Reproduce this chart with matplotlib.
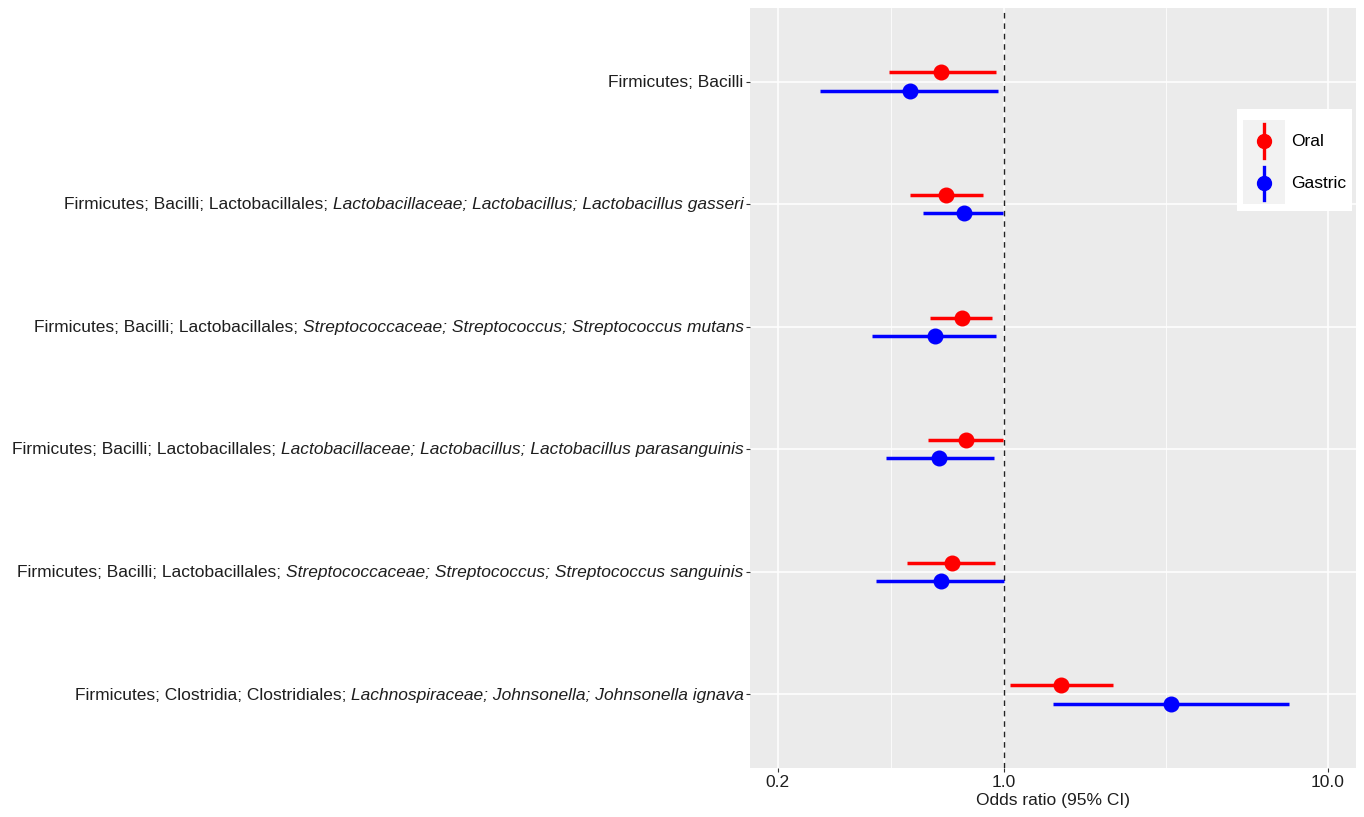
"""Forest plot of oral vs gastric microbiome odds ratios."""

import matplotlib

matplotlib.use("Agg")
import matplotlib.pyplot as plt
import numpy as np
from matplotlib.legend_handler import HandlerBase
from matplotlib.lines import Line2D
from matplotlib.offsetbox import AnnotationBbox, HPacker, TextArea
from matplotlib.patches import Rectangle
from matplotlib.ticker import FixedLocator, NullFormatter

plt.rcParams["font.family"] = ["Liberation Sans", "DejaVu Sans"]

# Taxa, top to bottom: (upright part, italic part)
TAXA_PLAIN = [
    "Firmicutes; Bacilli",
    "Firmicutes; Bacilli; Lactobacillales; ",
    "Firmicutes; Bacilli; Lactobacillales; ",
    "Firmicutes; Bacilli; Lactobacillales; ",
    "Firmicutes; Bacilli; Lactobacillales; ",
    "Firmicutes; Clostridia; Clostridiales; ",
]
TAXA_ITALIC = [
    "",
    "Lactobacillaceae; Lactobacillus; Lactobacillus gasseri",
    "Streptococcaceae; Streptococcus; Streptococcus mutans",
    "Lactobacillaceae; Lactobacillus; Lactobacillus parasanguinis",
    "Streptococcaceae; Streptococcus; Streptococcus sanguinis",
    "Lachnospiraceae; Johnsonella; Johnsonella ignava",
]

ORAL_OR = [0.640, 0.662, 0.742, 0.763, 0.691, 1.50]
ORAL_LO = [0.442, 0.513, 0.592, 0.583, 0.502, 1.044]
ORAL_HI = [0.943, 0.861, 0.920, 0.993, 0.940, 2.165]

GASTRIC_OR = [0.513, 0.752, 0.614, 0.631, 0.640, 3.28]
GASTRIC_LO = [0.271, 0.562, 0.392, 0.432, 0.402, 1.42]
GASTRIC_HI = [0.960, 0.993, 0.943, 0.931, 1.002, 7.60]

X_TICKS = [0.2, 1.0, 10.0]
X_TICK_LABELS = ["0.2", "1.0", "10.0"]
X_MINOR = [0.447, 3.162]

ORAL_COLOR = "#FF0000"
GASTRIC_COLOR = "#0000FF"
DODGE = 0.075
FONT_SIZE = 12.5
TEXT_COLOR = "#1E1E1E"


class PointRangeKey(HandlerBase):
    """ggplot-like pointrange legend key on a grey tile."""

    def create_artists(self, legend, orig_handle, xdescent, ydescent,
                       width, height, fontsize, trans):
        color = orig_handle.get_color()
        cx = width / 2 - xdescent
        cy = height / 2 - ydescent
        tile = Rectangle((-xdescent, -ydescent), width, height,
                         facecolor="#F2F2F2", edgecolor="none", transform=trans)
        stem = Line2D([cx, cx], [cy - height * 0.40, cy + height * 0.40],
                      color=color, lw=2.4, transform=trans)
        dot = Line2D([cx], [cy], marker="o", markersize=10, color=color,
                     linestyle="none", transform=trans)
        return [tile, stem, dot]


def draw_series(ax, y, est, lo, hi, color, label):
    ax.hlines(y, lo, hi, color=color, lw=2.5, zorder=3)
    ax.plot(est, y, "o", color=color, markersize=10.5, zorder=4,
            linestyle="none", label=label)


def add_taxon_label(ax, y, plain, italic):
    parts = [TextArea(plain, textprops=dict(fontsize=FONT_SIZE, color=TEXT_COLOR))]
    if italic:
        parts.append(TextArea(italic, textprops=dict(
            fontsize=FONT_SIZE, color=TEXT_COLOR, fontstyle="italic")))
    box = HPacker(children=parts, pad=0, sep=0, align="baseline")
    ab = AnnotationBbox(box, (0, y), xycoords=ax.get_yaxis_transform(),
                        xybox=(-4.5, -0.5), boxcoords="offset points",
                        box_alignment=(1, 0.5), frameon=False,
                        annotation_clip=False, pad=0)
    ax.add_artist(ab)


def main():
    fig = plt.figure(figsize=(13.64, 8.17), dpi=100)
    ax = fig.add_axes([750 / 1364, 49 / 817, 606 / 1364, 760 / 817])
    ax.set_facecolor("#EBEBEB")

    rows = np.arange(len(TAXA_PLAIN))
    ax.set_xscale("log")
    ax.set_xlim(0.1644, 12.2)
    ax.set_ylim(len(rows) - 0.4, -0.6)

    ax.xaxis.set_major_locator(FixedLocator(X_TICKS))
    ax.set_xticklabels(X_TICK_LABELS)
    ax.xaxis.set_minor_locator(FixedLocator(X_MINOR))
    ax.xaxis.set_minor_formatter(NullFormatter())
    ax.set_yticks(rows)
    ax.set_yticklabels([""] * len(rows))
    for y, plain, italic in zip(rows, TAXA_PLAIN, TAXA_ITALIC):
        add_taxon_label(ax, y, plain, italic)

    ax.grid(True, which="major", color="white", lw=1.1)
    ax.grid(True, which="minor", axis="x", color="white", lw=0.55)
    ax.set_axisbelow(True)
    for spine in ax.spines.values():
        spine.set_visible(False)

    ax.tick_params(axis="both", which="major", length=3, width=0.8,
                   color="#333333", labelsize=FONT_SIZE, labelcolor=TEXT_COLOR,
                   pad=2)
    ax.tick_params(axis="x", which="minor", length=0)

    ax.axvline(1.0, color="#222222", lw=1.0, linestyle=(0, (4, 3.5)), zorder=2)

    draw_series(ax, rows - DODGE, ORAL_OR, ORAL_LO, ORAL_HI, ORAL_COLOR, "Oral")
    draw_series(ax, rows + DODGE, GASTRIC_OR, GASTRIC_LO, GASTRIC_HI,
                GASTRIC_COLOR, "Gastric")

    ax.set_xlabel("Odds ratio (95% CI)", fontsize=FONT_SIZE, color=TEXT_COLOR,
                  labelpad=2)

    handles, labels = ax.get_legend_handles_labels()
    leg = ax.legend(
        handles, labels,
        handler_map={Line2D: PointRangeKey()},
        loc="upper left",
        bbox_to_anchor=(1237 / 1364, 1 - 109 / 817),
        bbox_transform=fig.transFigure,
        borderaxespad=0,
        fontsize=FONT_SIZE,
        title=" ",
        title_fontsize=4,
        handlelength=2.4,
        handleheight=3.35,
        handletextpad=0.35,
        labelspacing=0,
        borderpad=0.36,
        frameon=True,
        fancybox=False,
        framealpha=1,
        facecolor="white",
        edgecolor="white",
    )
    leg.get_frame().set_linewidth(0)

    fig.savefig("out.png", dpi=100)
    plt.close(fig)


if __name__ == "__main__":
    main()
